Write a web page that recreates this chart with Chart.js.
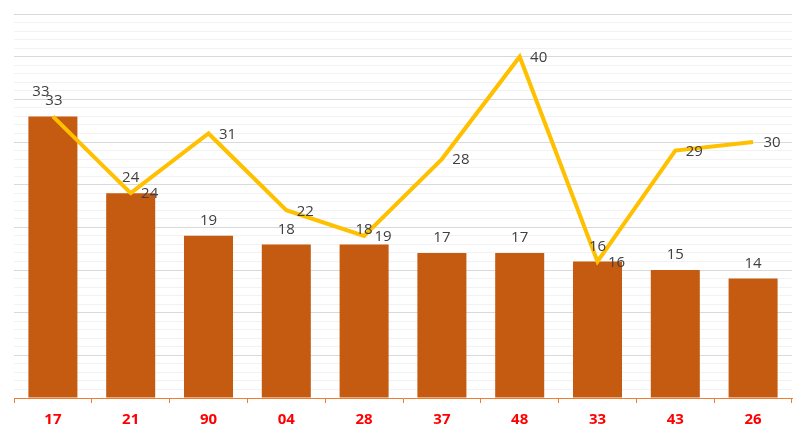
<!DOCTYPE html>
<html>
<head>
<meta charset="utf-8">
<script src="https://cdn.jsdelivr.net/npm/chart.js@4/dist/chart.umd.min.js"></script>
<style>
  html, body { margin: 0; padding: 0; background: #fff; }
  #wrap { width: 806px; height: 438px; }
</style>
</head>
<body>
<div id="wrap"><canvas id="chart" width="806" height="438"></canvas></div>
<script>
// Categories and series
const categories = ['17', '21', '90', '04', '28', '37', '48', '33', '43', '26'];
const barValues = [33, 24, 19, 18, 18, 17, 17, 16, 15, 14];
const lineValues = [33, 24, 31, 22, 19, 28, 40, 16, 29, 30];

const labelFont = '15px "Open Sans", "DejaVu Sans", sans-serif';

// Draw value labels: bars above the bar, line to the right of each point
const valueLabels = {
  id: 'valueLabels',
  afterDatasetsDraw(chart) {
    const ctx = chart.ctx;
    ctx.save();
    ctx.font = labelFont;
    ctx.fillStyle = '#404040';
    ctx.textAlign = 'center';
    ctx.textBaseline = 'middle';

    const bars = chart.getDatasetMeta(0).data;
    bars.forEach((bar, i) => {
      let dx = 0, dy = -15;
      if (i === 0) { dx = -12; dy = -25; }
      ctx.fillText(String(barValues[i]), bar.x + dx, bar.y + dy);
    });

    const pts = chart.getDatasetMeta(1).data;
    pts.forEach((pt, i) => {
      let dx = 19, dy = 1;
      if (i === 0) { dx = 1; dy = -16; }
      ctx.fillText(String(lineValues[i]), pt.x + dx, pt.y + dy);
    });
    ctx.restore();
  }
};

const ctx = document.getElementById('chart').getContext('2d');
new Chart(ctx, {
  data: {
    labels: categories,
    datasets: [
      {
        type: 'bar',
        data: barValues,
        backgroundColor: '#C55A11',
        categoryPercentage: 1,
        barPercentage: 0.63,
        order: 1,
      },
      {
        type: 'line',
        data: lineValues,
        borderColor: '#FFC000',
        borderWidth: 4,
        pointRadius: 0,
        tension: 0,
        borderJoinStyle: 'miter',
        order: 0,
      },
    ],
  },
  options: {
    responsive: false,
    animation: false,
    layout: {
      padding: { top: 14, left: 14, right: 14, bottom: 0 },
    },
    plugins: {
      legend: { display: false },
      tooltip: { enabled: false },
    },
    scales: {
      x: {
        afterFit: (scale) => { scale.height = 40; },
        grid: {
          offset: true,
          drawOnChartArea: false,
          drawTicks: true,
          tickLength: 5,
          tickColor: '#ED7D31',
        },
        border: { color: '#ED7D31', width: 1 },
        ticks: {
          color: '#FF0000',
          padding: 8,
          font: { family: '"Open Sans", "DejaVu Sans", sans-serif', size: 15, weight: 'bold' },
        },
      },
      y: {
        min: 0,
        max: 45,
        ticks: { display: false, stepSize: 1 },
        border: { display: false },
        grid: {
          drawTicks: false,
          color: (c) => (c.tick && c.tick.value % 5 === 0 ? '#D9D9D9' : '#F2F2F2'),
        },
      },
    },
  },
  plugins: [valueLabels],
});
</script>
</body>
</html>
